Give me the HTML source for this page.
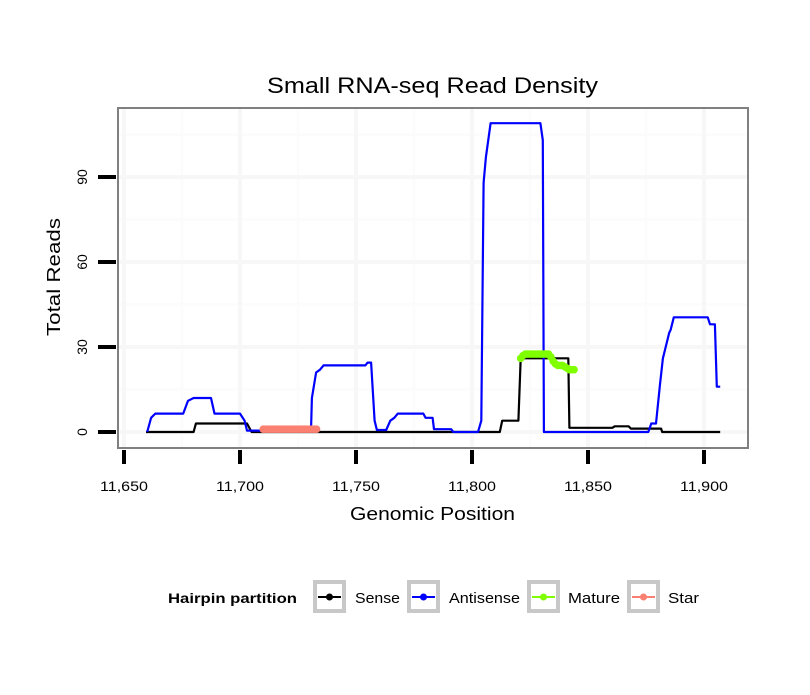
<!DOCTYPE html>
<html><head><meta charset="utf-8"><style>
body{margin:0;background:#fff;}
svg{font-family:"Liberation Sans",sans-serif;}
</style></head><body>
<svg id="chart" width="810" height="690" viewBox="0 0 810 690" xmlns="http://www.w3.org/2000/svg">
<rect width="810" height="690" fill="#fff"/>
<text x="267" y="93" font-size="22" textLength="331" lengthAdjust="spacingAndGlyphs">Small RNA-seq Read Density</text>
<g id="grid"></g>
<g id="series"></g>
<rect x="118" y="108" width="630" height="340" fill="none" stroke="#808080" stroke-width="2"/>
<g id="axes"></g>
<text x="350" y="520" font-size="18" textLength="165" lengthAdjust="spacingAndGlyphs">Genomic Position</text>
<text transform="translate(60,336) rotate(-90)" font-size="18" textLength="118" lengthAdjust="spacingAndGlyphs">Total Reads</text>
<g>
<text x="168" y="603" font-size="14" font-weight="bold" textLength="129" lengthAdjust="spacingAndGlyphs">Hairpin partition</text>
<g><rect x="315" y="582" width="29" height="29" fill="#fff" stroke="#c8c8c8" stroke-width="4"/><line x1="318" y1="597" x2="341" y2="597" stroke="#000" stroke-width="2"/><circle cx="329.5" cy="597" r="3.5" fill="#000"/><text x="355" y="603" font-size="15" textLength="45" lengthAdjust="spacingAndGlyphs">Sense</text></g>
<g><rect x="409" y="582" width="29" height="29" fill="#fff" stroke="#c8c8c8" stroke-width="4"/><line x1="412" y1="597" x2="435" y2="597" stroke="#0000ff" stroke-width="2"/><circle cx="423.5" cy="597" r="3.5" fill="#0000ff"/><text x="449" y="603" font-size="15" textLength="71" lengthAdjust="spacingAndGlyphs">Antisense</text></g>
<g><rect x="529" y="582" width="29" height="29" fill="#fff" stroke="#c8c8c8" stroke-width="4"/><line x1="532" y1="597" x2="555" y2="597" stroke="#7fff00" stroke-width="2"/><circle cx="543.5" cy="597" r="3.5" fill="#7fff00"/><text x="568" y="603" font-size="15" textLength="52" lengthAdjust="spacingAndGlyphs">Mature</text></g>
<g><rect x="629" y="582" width="29" height="29" fill="#fff" stroke="#c8c8c8" stroke-width="4"/><line x1="632" y1="597" x2="655" y2="597" stroke="#fa8072" stroke-width="2"/><circle cx="643.5" cy="597" r="3.5" fill="#fa8072"/><text x="668" y="603" font-size="15" textLength="31" lengthAdjust="spacingAndGlyphs">Star</text></g>
</g>
</svg>
<script>
const xTicks=[11650,11700,11750,11800,11850,11900];
const xTickLabels=["11,650","11,700","11,750","11,800","11,850","11,900"];
const yTicks=[0,30,60,90];
const yTickLabels=["0","30","60","90"];
const antisensePos=[11660,11661.7,11663.5,11675.5,11677.6,11680,11687.5,11689,11700,11702,11703,11730.6,11731,11732.8,11734.5,11736,11754,11755,11756.5,11758,11759,11763,11764.8,11766.5,11768,11779,11780,11783,11783.6,11791,11792,11802.6,11804,11805,11806,11808,11829.5,11830.5,11831,11876,11877.3,11879.3,11881,11882.3,11883.5,11885,11885.6,11887,11901.6,11902.6,11904.7,11905.5,11907];
const antisenseVal=[0,5,6.5,6.5,11,12,12,6.5,6.5,4,0.5,0.5,12,21,22,23.5,23.5,24.5,24.5,4,0.7,0.7,4,5,6.5,6.5,5,5,1,1,0,0,4,88,97,109,109,103,0,0,3,3,16.5,26,30,35,36,40.5,40.5,38,38,16,16];
const sensePos=[11659.5,11680,11681,11703,11705,11812,11813,11820,11821,11841.5,11842,11860.5,11861.5,11867.5,11868.5,11881.5,11882,11907];
const senseVal=[0,0,3,3,0,0,4,4,26,26,1.5,1.5,2,2,1.2,1.2,0,0];
const maturePos=[11821,11822,11823,11824,11825,11826,11827,11828,11829,11830,11831,11832,11833,11834,11835,11836,11837,11838,11839,11840,11841,11842,11843,11844];
const matureVal=[26,27,27.5,27.5,27.5,27.5,27.5,27.5,27.5,27.5,27.5,27.5,27.5,26.5,25,24,23.5,23.5,23.5,23,22.5,22,22,22];
const starPos=[11710,11711,11712,11713,11714,11715,11716,11717,11718,11719,11720,11721,11722,11723,11724,11725,11726,11727,11728,11729,11730,11731,11732,11733];
const starVal=[1,1,1,1,1,1,1,1,1,1,1,1,1,1,1,1,1,1,1,1,1,1,1,1];

const NS="http://www.w3.org/2000/svg";
function xs(v){return 124+(v-11650)*2.32;}
function ys(v){return 432-v*(85/30);}
function mk(tag,attrs,parent){const e=document.createElementNS(NS,tag);for(const k in attrs)e.setAttribute(k,attrs[k]);parent.appendChild(e);return e;}
const grid=document.getElementById('grid'),axes=document.getElementById('axes'),series=document.getElementById('series');
mk('rect',{x:118,y:108,width:630,height:340,fill:'#fff'},grid);
for(let i=0;i<xTicks.length;i++){const mv=xTicks[i]+25;if(xs(mv)<748){const l=mk('line',{x1:xs(mv),x2:xs(mv),y1:108,y2:448,stroke:'#fcfcfc','stroke-width':3},grid);

}}
for(let i=0;i<yTicks.length;i++){const mv=yTicks[i]+15;if(ys(mv)>108){const l=mk('line',{x1:118,x2:748,y1:ys(mv),y2:ys(mv),stroke:'#fcfcfc','stroke-width':3},grid);

}}
xTicks.forEach((t,i)=>{
const g=mk('line',{x1:xs(t),x2:xs(t),y1:108,y2:448,stroke:'#f7f7f7','stroke-width':4},grid);


const tk=mk('line',{x1:xs(t),x2:xs(t),y1:450,y2:464,stroke:'#000','stroke-width':4},axes);


const tx=mk('text',{x:xs(t)-24,y:491,'font-size':14,textLength:48,lengthAdjust:'spacingAndGlyphs'},axes);tx.textContent=xTickLabels[i];


});
yTicks.forEach((t,i)=>{
const g=mk('line',{x1:118,x2:748,y1:ys(t),y2:ys(t),stroke:'#f7f7f7','stroke-width':4},grid);


const tk=mk('line',{x1:98,x2:116,y1:ys(t),y2:ys(t),stroke:'#000','stroke-width':4},axes);


const tx=mk('text',{transform:`translate(87,${ys(t)}) rotate(-90)`,'font-size':14,'text-anchor':'middle'},axes);tx.textContent=yTickLabels[i];


});
function line(pos,val,color,name){
const d=pos.map((p,i)=>(i?'L':'M')+xs(p).toFixed(1)+','+ys(val[i]).toFixed(1)).join('');
const p=mk('path',{d:d,fill:'none',stroke:color,'stroke-width':2.2,'stroke-linejoin':'round'},series);


}
function pts(pos,val,color,name){
line(pos,val,color,name+'-line');
pos.forEach((q,i)=>{const c=mk('circle',{cx:xs(q),cy:ys(val[i]),r:3.8,fill:color},series);

});
}
line(sensePos,senseVal,'#000','sense-line');
line(antisensePos,antisenseVal,'#0000ff','antisense-line');
pts(maturePos,matureVal,'#7fff00','mature');
pts(starPos,starVal,'#fa8072','star');
</script>
</body></html>
